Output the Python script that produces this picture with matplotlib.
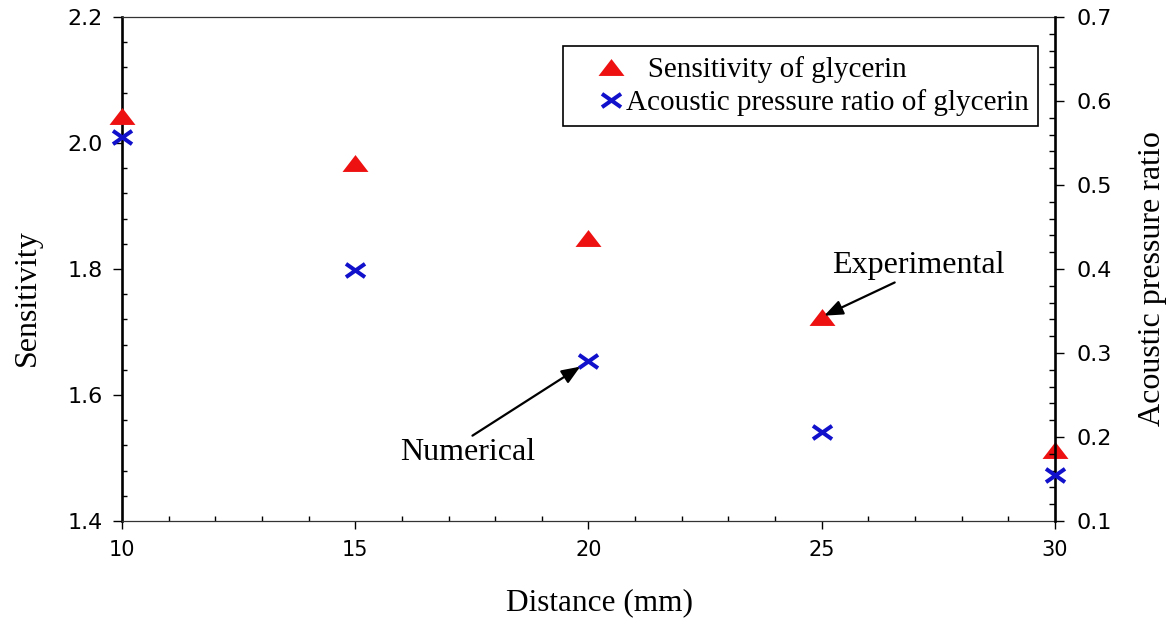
import matplotlib

matplotlib.use("Agg")

import matplotlib.pyplot as plt
from matplotlib.legend_handler import HandlerLine2D
from matplotlib.lines import Line2D
from matplotlib.path import Path
from matplotlib.ticker import FormatStrFormatter, MultipleLocator

# values
distance = [10, 15, 20, 25, 30]                      # mm
sensitivity = [2.043, 1.968, 1.849, 1.724, 1.513]    # left axis
pressure_ratio = [0.557, 0.399, 0.290, 0.206, 0.155]  # right axis

sens_label = "   Sensitivity of glycerin"
ratio_label = "Acoustic pressure ratio of glycerin"

RED = "#ee1111"
BLUE = "#1111cc"
SERIF = "Liberation Serif"
SANS = "DejaVu Sans"

# flattened triangle and flattened cross, as in the original figure
TRI = [(-1, -0.65), (1, -0.65), (0, 0.65)]
CROSS = Path([(-1, -0.7), (1, 0.7), (-1, 0.7), (1, -0.7)],
             [Path.MOVETO, Path.LINETO, Path.MOVETO, Path.LINETO])


class RightMarkerHandler(HandlerLine2D):
    """Legend handle whose single marker sits right of centre.

    With numpoints=1 matplotlib puts the marker at the midpoint of xdata,
    so the (invisible) line span is shifted instead.
    """

    def get_xdata(self, legend, xdescent, ydescent, width, height, fontsize):
        xdata = [-xdescent + 0.62 * width, -xdescent + 0.82 * width]
        return xdata, [-xdescent + 0.72 * width]


fig = plt.figure(figsize=(11.76, 6.24), dpi=100)
ax = fig.add_axes([0.1037, 0.1651, 0.7934, 0.8077])
ax2 = ax.twinx()

(l1,) = ax.plot(distance, sensitivity, linestyle="none", marker=TRI,
                markersize=18.7, color=RED, markeredgewidth=0,
                clip_on=False, zorder=3, label=sens_label)
(l2,) = ax2.plot(distance, pressure_ratio, linestyle="none", marker=CROSS,
                 markersize=13.7, markerfacecolor="none", markeredgecolor=BLUE,
                 markeredgewidth=2.9, clip_on=False, zorder=3, label=ratio_label)

ax.set_xlim(10, 30)
ax.set_ylim(1.4, 2.2)
ax2.set_ylim(0.1, 0.7)

ax.xaxis.set_major_locator(MultipleLocator(5))
ax.xaxis.set_minor_locator(MultipleLocator(1))
ax.yaxis.set_major_locator(MultipleLocator(0.2))
ax.yaxis.set_minor_locator(MultipleLocator(0.04))
ax.yaxis.set_major_formatter(FormatStrFormatter("%.1f"))
ax2.yaxis.set_major_locator(MultipleLocator(0.1))
ax2.yaxis.set_minor_locator(MultipleLocator(0.02))
ax2.yaxis.set_major_formatter(FormatStrFormatter("%.1f"))

# frame: heavy vertical spines, thin horizontal ones
for side in ("top", "bottom"):
    ax.spines[side].set_linewidth(0.9)
    ax.spines[side].set_color("#333333")
ax.spines["left"].set_linewidth(1.9)
ax.spines["right"].set_visible(False)
for side in ("left", "top", "bottom"):
    ax2.spines[side].set_visible(False)
ax2.spines["right"].set_linewidth(1.9)

ax.tick_params(axis="x", which="major", direction="out", length=6, width=1,
               pad=8, labelsize=15, top=False)
ax.tick_params(axis="x", which="minor", direction="in", length=3.5, width=1, top=False)
ax.tick_params(axis="y", which="major", direction="out", length=6.5, width=1,
               pad=7.5, labelsize=16, right=False)
ax.tick_params(axis="y", which="minor", direction="in", length=3.5, width=1, right=False)
ax2.tick_params(axis="y", which="major", direction="out", length=6.5, width=1,
                pad=9, labelsize=16)
ax2.tick_params(axis="y", which="minor", direction="in", length=4.5, width=1)
for lab in ax.get_xticklabels() + ax.get_yticklabels() + ax2.get_yticklabels():
    lab.set_fontfamily(SANS)

ax.set_xlabel("Distance (mm)", fontsize=22.5, fontfamily=SERIF)
ax.set_ylabel("Sensitivity", fontsize=23, fontfamily=SERIF)
ax2.set_ylabel("Acoustic pressure ratio", fontsize=23, fontfamily=SERIF)
ax.xaxis.set_label_coords(0.512, -0.133)
ax.yaxis.set_label_coords(-0.086, 0.444)
ax2.yaxis.set_label_coords(1.089, 0.48)

arrow = dict(arrowstyle="-|>,head_length=0.8,head_width=0.32", color="black",
             lw=1.6, mutation_scale=14)
ax2.annotate("Numerical", xy=(20, 0.290), xytext=(17.42, 0.181),
             textcoords="data", fontsize=23, fontfamily=SERIF,
             ha="center", va="center",
             arrowprops=dict(arrow, shrinkA=0, shrinkB=7, relpos=(0.5, 1.0)))
ax.annotate("Experimental", xy=(25, 1.724), xytext=(27.06, 1.806),
            textcoords="data", fontsize=23, fontfamily=SERIF,
            ha="center", va="center",
            arrowprops=dict(arrow, shrinkA=0, shrinkB=2, relpos=(0.4, 0.0)))

leg = ax2.legend(handles=[l1, l2], loc="upper right",
                 bbox_to_anchor=(0.982, 0.942), borderaxespad=0,
                 prop={"family": SERIF, "size": 21}, frameon=True,
                 fancybox=False, framealpha=1, edgecolor="black",
                 borderpad=0.33, handlelength=1.83, handletextpad=0.0,
                 labelspacing=0.22, numpoints=1,
                 handler_map={Line2D: RightMarkerHandler()})
leg.get_frame().set_linewidth(1.2)

fig.savefig("out.png", dpi=100)
